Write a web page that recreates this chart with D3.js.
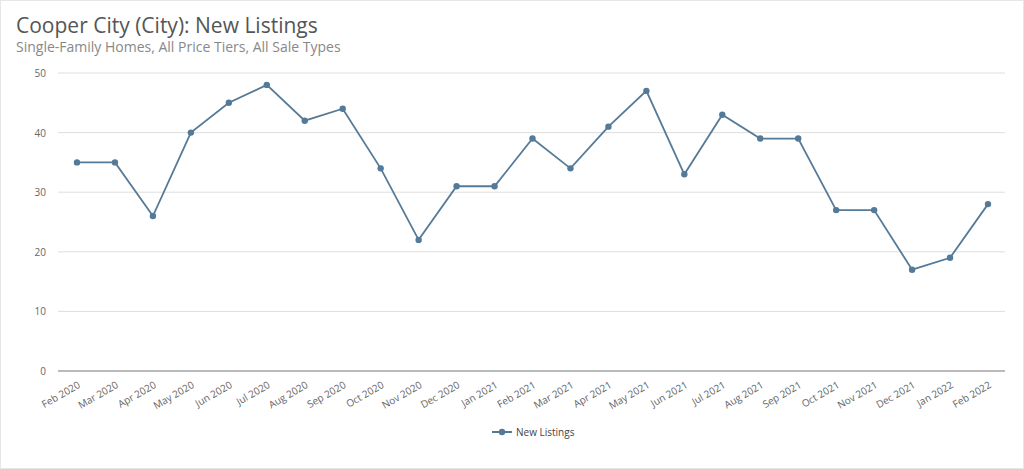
<!DOCTYPE html><html><head><meta charset="utf-8">
<script src="https://cdn.jsdelivr.net/npm/d3@7"></script>
<style>body{margin:0;background:#fff}text{font-family:"Open Sans",sans-serif}</style></head><body>
<svg id="c" width="1024" height="469"></svg>
<script>
const months=["Feb 2020","Mar 2020","Apr 2020","May 2020","Jun 2020","Jul 2020","Aug 2020","Sep 2020","Oct 2020","Nov 2020","Dec 2020","Jan 2021","Feb 2021","Mar 2021","Apr 2021","May 2021","Jun 2021","Jul 2021","Aug 2021","Sep 2021","Oct 2021","Nov 2021","Dec 2021","Jan 2022","Feb 2022"];
const newListings=[35,35,26,40,45,48,42,44,34,22,31,31,39,34,41,47,33,43,39,39,27,27,17,19,28];
const yTicks=[0,10,20,30,40,50];
const svg=d3.select("#c");
const color="#557a98";
svg.append("rect").attr("x",0.5).attr("y",0.5).attr("width",1023).attr("height",468).attr("fill","none").attr("stroke","#e6e6e6");
svg.append("text").attr("x",16).attr("y",33).attr("font-size",21).attr("fill","#555").text("Cooper City (City): New Listings");
svg.append("text").attr("x",16).attr("y",52).attr("font-size",14).attr("fill","#888").text("Single-Family Homes, All Price Tiers, All Sale Types");
const x=d3.scalePoint().domain(months).range([77,988]);
const y=d3.scaleLinear().domain([0,50]).range([371,73]);
const g=svg.append("g");
g.selectAll("line.grid").data(yTicks.filter(d=>d>0)).join("line").attr("x1",58).attr("x2",1005).attr("y1",d=>y(d)).attr("y2",d=>y(d)).attr("stroke","#dedede");
g.append("line").attr("x1",58).attr("x2",1005).attr("y1",y(0)).attr("y2",y(0)).attr("stroke","#777");
g.selectAll("text.yl").data(yTicks).join("text").attr("x",46).attr("y",d=>y(d)+4).attr("text-anchor","end").attr("font-size",10).attr("fill","#666").text(d=>d);
g.selectAll("text.xl").data(months).join("text").attr("font-size",10).attr("fill","#666").attr("text-anchor","end")
 .attr("transform",d=>`translate(${x(d)+4},${y(0)+16}) rotate(-30)`).text(d=>d);
const line=d3.line().x((d,i)=>x(months[i])).y(d=>y(d));
g.append("path").datum(newListings).attr("d",line).attr("fill","none").attr("stroke",color).attr("stroke-width",1.8);
g.selectAll("circle").data(newListings).join("circle").attr("cx",(d,i)=>x(months[i])).attr("cy",d=>y(d)).attr("r",3.2).attr("fill",color);
const lg=svg.append("g").attr("transform","translate(492,432)");
lg.append("line").attr("x1",0).attr("x2",20).attr("stroke",color).attr("stroke-width",2);
lg.append("circle").attr("cx",10).attr("r",3.2).attr("fill",color);
lg.append("text").attr("x",24).attr("y",4).attr("font-size",10).attr("fill","#444").text("New Listings");
</script></body></html>
